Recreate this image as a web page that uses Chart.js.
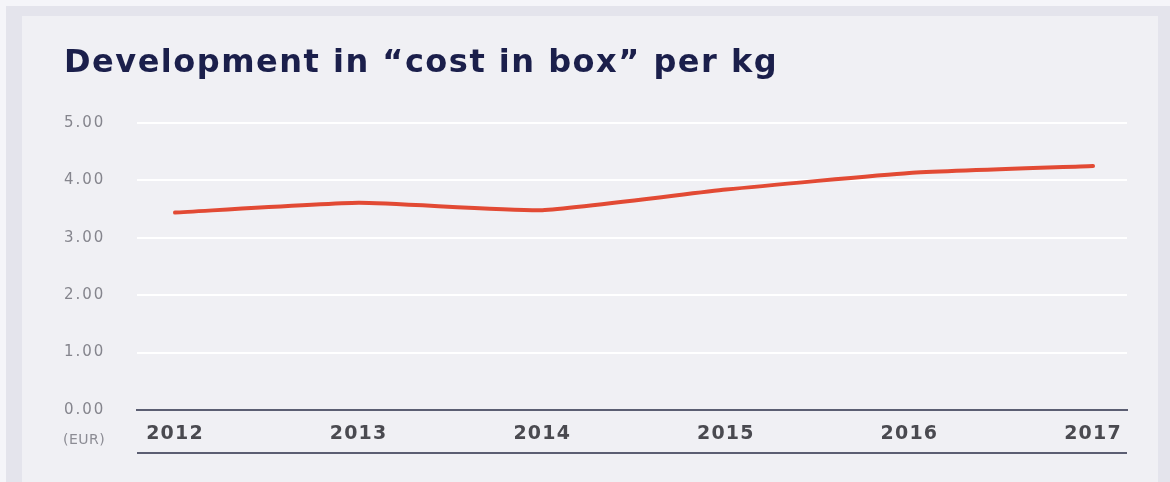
<!DOCTYPE html>
<html>
<head>
<meta charset="utf-8">
<script src="https://cdn.jsdelivr.net/npm/chart.js@4.4.1/dist/chart.umd.min.js"></script>
<style>
  html, body { margin: 0; padding: 0; background: #e5e5ed; }
  #wrap { position: relative; width: 1170px; height: 482px; }
</style>
</head>
<body>
<div id="wrap"><canvas id="c" width="1170" height="482"></canvas></div>
<script>
const titleText = 'Development in \u201Ccost in box\u201D per kg';
const years = [2012, 2013, 2014, 2015, 2016, 2017];
const costPerKg = [3.44, 3.61, 3.48, 3.84, 4.13, 4.25];
const yTicks = [0, 1, 2, 3, 4, 5];
const unitLabel = '(EUR)';

const TITLE_FONT = { family: 'DejaVu Sans', size: 32, weight: 'bold' };
const XTICK_FONT = { family: 'DejaVu Sans', size: 19, weight: 'bold' };
const YTICK_FONT = { family: 'DejaVu Sans', size: 15, weight: 'normal' };

// letter spacing by font size (canvas letterSpacing)
function spacingFor(font) {
  if (/\b32px/.test(font)) return '1.5px';
  if (/\b19px/.test(font)) return '1.2px';
  if (/\b15px/.test(font)) return '2px';
  return '0px';
}
const canvas = document.getElementById('c');
const ctx0 = canvas.getContext('2d');
const origFill = ctx0.fillText.bind(ctx0);
const origMeasure = ctx0.measureText.bind(ctx0);
ctx0.fillText = function (t, x, y, m) {
  this.letterSpacing = spacingFor(this.font);
  return m === undefined ? origFill(t, x, y) : origFill(t, x, y, m);
};
ctx0.measureText = function (t) {
  this.letterSpacing = spacingFor(this.font);
  return origMeasure(t);
};

const bgPlugin = {
  id: 'bg',
  beforeDraw(chart) {
    const ctx = chart.ctx;
    ctx.save();
    ctx.fillStyle = '#f5f5f9';
    ctx.fillRect(0, 0, chart.width, chart.height);
    ctx.fillStyle = '#e4e4ec';
    ctx.fillRect(6, 6, chart.width - 6, chart.height - 6);
    ctx.fillStyle = '#f0f0f4';
    ctx.fillRect(22, 16, 1136, chart.height - 16);
    ctx.restore();
  },
  afterDraw(chart) {
    const ctx = chart.ctx;
    const a = chart.chartArea;
    ctx.save();
    ctx.strokeStyle = '#5b5e72';
    ctx.lineWidth = 2;
    ctx.beginPath();
    ctx.moveTo(a.left, 453);
    ctx.lineTo(a.right, 453);
    ctx.stroke();
    ctx.fillStyle = '#8c8c94';
    ctx.font = 'normal 14px "DejaVu Sans", sans-serif';
    ctx.letterSpacing = '0.5px';
    ctx.textAlign = 'left';
    ctx.textBaseline = 'middle';
    origFill(unitLabel, 63, 440);
    ctx.restore();
  }
};

new Chart(canvas, {
  type: 'line',
  data: {
    datasets: [{
      data: years.map((y, i) => ({ x: y, y: costPerKg[i] })),
      borderColor: '#e24a34',
      borderWidth: 4,
      pointRadius: 0,
      tension: 0.15,
      borderCapStyle: 'round',
      fill: false
    }]
  },
  options: {
    responsive: false,
    animation: false,
    layout: { padding: { left: 64, right: 43, top: 44, bottom: 29 } },
    plugins: {
      legend: { display: false },
      tooltip: { enabled: false },
      title: {
        display: true,
        text: titleText,
        align: 'start',
        color: '#1b1f4b',
        font: TITLE_FONT,
        padding: { top: 0, bottom: 40.6 }
      }
    },
    scales: {
      x: {
        type: 'linear',
        min: 2011.793,
        max: 2017.185,
        afterBuildTicks(scale) { scale.ticks = years.map(v => ({ value: v })); },
        afterFit(scale) { scale.height = 43; },
        grid: { display: false, drawTicks: false },
        border: { display: true, color: '#5b5e72', width: 2 },
        ticks: {
          padding: 13,
          color: '#4a4a50',
          font: XTICK_FONT,
          callback: v => String(v)
        }
      },
      y: {
        min: 0,
        max: 5,
        afterBuildTicks(scale) { scale.ticks = yTicks.map(v => ({ value: v })); },
        afterFit(scale) { scale.width = 73; },
        grid: {
          color: c => c.tick && c.tick.value === 0 ? 'rgba(0,0,0,0)' : '#ffffff',
          lineWidth: 2,
          drawTicks: false
        },
        border: { display: false },
        ticks: {
          crossAlign: 'far',
          padding: 0,
          color: '#85858d',
          font: YTICK_FONT,
          callback: v => Number(v).toFixed(2)
        }
      }
    }
  },
  plugins: [bgPlugin]
});
</script>
</body>
</html>
